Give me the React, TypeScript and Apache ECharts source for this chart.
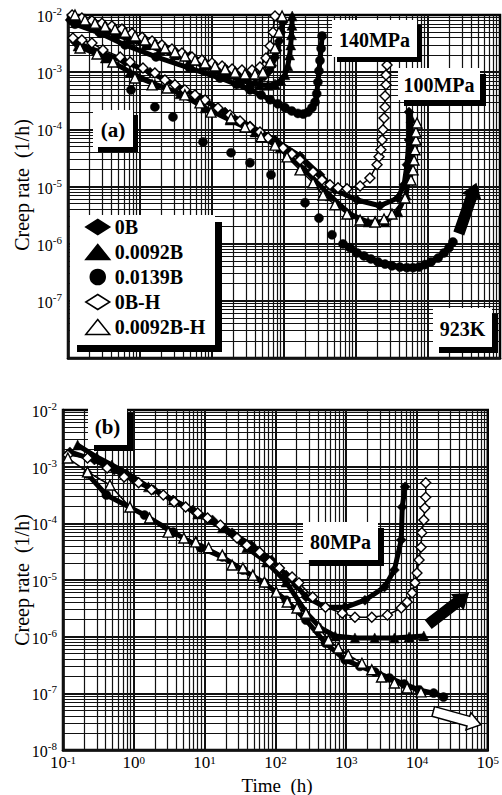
import { useEffect, useRef } from "react";
import * as echarts from "echarts";

type Pt = [number, number];

// ---------- (a) 923 K, 140 MPa : [time (h), creep rate (1/h)] ----------
const a140_0B: Pt[] = [
  [0.107, 8.2e-3], [0.2, 6.8e-3], [0.28, 5.9e-3], [0.45, 5.0e-3], [0.73, 4.3e-3], [1.2, 3.5e-3],
  [1.9, 2.9e-3], [3.0, 2.35e-3], [4.9, 1.9e-3], [7.5, 1.55e-3], [11, 1.3e-3], [16, 1.1e-3],
  [24.5, 9.3e-4], [32, 8.5e-4], [40, 7.9e-4], [48, 7.9e-4], [54, 8.6e-4], [62, 1.05e-3],
  [68, 1.3e-3], [75, 1.8e-3], [80, 2.4e-3], [86, 3.5e-3], [91, 5.0e-3], [97, 7.5e-3],
];
const a140_0092B: Pt[] = [
  [0.114, 8.9e-3], [0.19, 7.0e-3], [0.28, 5.5e-3], [0.45, 4.6e-3], [0.73, 3.7e-3], [1.2, 3.0e-3],
  [1.9, 2.45e-3], [3.0, 2.0e-3], [4.9, 1.6e-3], [7.5, 1.3e-3], [11, 1.1e-3], [16, 9.0e-4],
  [24.5, 7.3e-4], [34, 6.5e-4], [46, 6.0e-4], [60, 5.9e-4], [75, 6.2e-4], [90, 7.2e-4],
  [103, 9.0e-4], [113, 1.3e-3], [120, 2.0e-3], [124, 3.0e-3], [127, 4.5e-3], [129, 6.6e-3], [130, 9.6e-3],
];
const a140_0139B: Pt[] = [
  [0.125, 6.9e-3], [0.28, 4.8e-3], [0.62, 3.0e-3], [1.67, 1.85e-3], [4.9, 1.18e-3], [12.9, 7.9e-4],
  [22, 6.1e-4], [33.7, 4.9e-4], [48, 4.0e-4], [64, 3.3e-4], [82, 2.8e-4], [103, 2.4e-4],
  [128, 2.1e-4], [156, 1.9e-4], [185, 1.85e-4], [215, 2.0e-4], [245, 2.4e-4], [270, 3.0e-4],
  [285, 4.2e-4], [296, 6.7e-4], [306, 1.05e-3], [316, 1.6e-3], [328, 2.6e-3], [338, 4.3e-3],
];
const a140_0BH: Pt[] = [
  [0.114, 1.0e-2], [0.156, 8.9e-3], [0.215, 7.9e-3], [0.296, 7.2e-3], [0.408, 6.4e-3], [0.562, 5.7e-3],
  [0.774, 4.8e-3], [1.07, 4.1e-3], [1.47, 3.5e-3], [2.02, 3.0e-3], [2.78, 2.55e-3], [3.83, 2.17e-3],
  [5.27, 1.85e-3], [7.26, 1.63e-3], [10, 1.45e-3], [13.8, 1.28e-3], [19, 1.14e-3], [26.1, 1.09e-3],
  [36, 1.09e-3], [46.4, 1.23e-3], [56.2, 1.77e-3], [64, 2.87e-3], [70.3, 5.0e-3], [75, 9.6e-3],
];
const a140_0092BH: Pt[] = [
  [0.125, 1.0e-2], [0.172, 8.2e-3], [0.237, 7.2e-3], [0.327, 6.4e-3], [0.45, 5.7e-3], [0.62, 5.0e-3],
  [0.853, 4.3e-3], [1.17, 3.66e-3], [1.61, 3.1e-3], [2.22, 2.65e-3], [3.06, 2.25e-3], [4.22, 1.92e-3],
  [5.81, 1.63e-3], [8.0, 1.45e-3], [11.0, 1.28e-3], [15.2, 1.14e-3], [20.9, 1.0e-3], [28.7, 9.3e-4],
  [39.5, 9.3e-4], [51, 1.0e-3], [64, 1.51e-3], [75, 2.65e-3], [85, 5.0e-3], [94, 9.6e-3],
];

// ---------- (a) 923 K, 100 MPa ----------
const a100_0B: Pt[] = [
  [0.125, 3.37e-3], [0.278, 2.25e-3], [0.62, 1.51e-3], [1.38, 1.0e-3], [3.06, 6.0e-4], [6.8, 3.54e-4],
  [15.2, 2.0e-4], [33.7, 1.15e-4], [75, 6.5e-5], [167, 3.4e-5], [316, 1.6e-5], [510, 8.7e-6],
  [1030, 5.8e-6], [2150, 4.6e-6], [3830, 6.3e-6], [4650, 1.07e-5], [5100, 2.4e-5], [5450, 6.5e-5], [5450, 2.0e-4],
];
const a100_0092B: Pt[] = [
  [0.138, 2.87e-3], [0.33, 1.77e-3], [0.73, 1.0e-3], [1.61, 6.2e-4], [3.6, 4.2e-4], [8.0, 2.37e-4],
  [17.8, 1.46e-4], [39.5, 9.0e-5], [88, 4.7e-5], [196, 1.95e-5], [435, 6.9e-6], [826, 3.3e-6],
  [1470, 2.4e-6], [2530, 2.4e-6], [3830, 3.6e-6], [4950, 7.1e-6], [5620, 1.95e-5], [5800, 5.3e-5], [5800, 1.58e-4],
];
const a100_0139B_early: Pt[] = [
  [0.75, 4.9e-4], [1.61, 2.47e-4], [2.87, 1.65e-4], [7.5, 6.0e-5], [18.4, 3.9e-5], [33.7, 2.6e-5],
  [66, 1.6e-5], [196, 5.2e-6], [306, 2.8e-6], [464, 1.43e-6],
];
const a100_0139B_late: Pt[] = [
  [660, 9.9e-7], [826, 8.5e-7], [1030, 6.9e-7], [1290, 6.1e-7], [1610, 5.4e-7], [2020, 4.8e-7],
  [2530, 4.4e-7], [3160, 4.1e-7], [4080, 3.9e-7], [5100, 3.8e-7], [6200, 3.8e-7], [7500, 3.9e-7],
  [9080, 4.3e-7], [11000, 4.8e-7], [13800, 5.6e-7], [16700, 6.9e-7], [19600, 8.5e-7], [22200, 1.07e-6],
];
const a100_0BH: Pt[] = [
  [0.117, 3.96e-3], [0.156, 3.66e-3], [0.215, 3.24e-3], [0.306, 2.45e-3], [0.53, 1.85e-3], [0.73, 1.51e-3],
  [1.1, 1.18e-3], [1.61, 9.7e-4], [2.22, 7.3e-4], [3.06, 6.0e-4], [4.2, 4.9e-4], [5.8, 4.0e-4],
  [8.0, 3.27e-4], [12.1, 2.37e-4], [17.8, 1.79e-4], [24.5, 1.4e-4], [33.7, 1.1e-4], [46.4, 9.0e-5],
  [60, 7.1e-5], [97, 4.7e-5], [129, 3.7e-5], [167, 2.9e-5], [253, 1.8e-5], [337, 1.3e-5],
  [435, 1.07e-5], [562, 9.5e-6], [750, 9.1e-6], [1140, 1.02e-5], [1560, 1.41e-5], [1960, 2.4e-5],
  [2090, 3.3e-5], [2220, 4.4e-5], [2300, 6.5e-5], [2370, 9.8e-5], [2450, 1.58e-4], [2530, 2.47e-4],
  [2530, 3.84e-4], [2610, 6.0e-4], [2610, 8.9e-4], [2700, 1.34e-3],
];
const a100_0092BH: Pt[] = [
  [0.147, 2.65e-3], [0.253, 2.08e-3], [0.42, 1.51e-3], [0.85, 7.9e-4], [1.47, 6.0e-4], [2.37, 5.3e-4],
  [4.2, 4.0e-4], [6.8, 2.9e-4], [9.7, 2.0e-4], [18.4, 1.58e-4], [28.7, 1.1e-4], [48, 7.4e-5],
  [75, 5.3e-5], [110, 3.3e-5], [167, 1.95e-5], [253, 1.16e-5], [348, 7.1e-6], [510, 4.8e-6],
  [750, 3.3e-6], [1140, 2.6e-6], [1840, 2.4e-6], [2450, 2.7e-6], [3160, 3.3e-6], [4800, 6.3e-6],
  [5800, 1.3e-5], [6200, 1.95e-5], [6400, 2.9e-5], [6600, 4.4e-5], [6800, 6.5e-5], [6800, 9.0e-5], [7030, 1.29e-4],
];

// ---------- (b) 80 MPa ----------
const b80_0B: Pt[] = [
  [0.125, 1.82e-3], [0.278, 1.31e-3], [0.53, 8.7e-4], [1.0, 5.8e-4], [1.9, 3.9e-4], [3.6, 2.58e-4],
  [6.8, 1.72e-4], [12.9, 1.15e-4], [24.5, 6.8e-5], [46, 4.1e-5], [88, 2.25e-5], [142, 1.22e-5],
  [196, 8.2e-6], [270, 5.0e-6], [510, 3.3e-6], [968, 3.3e-6], [1840, 4.4e-6], [3480, 7.5e-6],
  [4800, 1.5e-5], [6000, 5.1e-5], [6200, 1.94e-4], [6800, 4.4e-4],
];
const b80_0092B: Pt[] = [
  [0.161, 2.41e-3], [0.3, 1.48e-3], [0.49, 1.07e-3], [0.8, 7.7e-4], [1.61, 4.4e-4], [3.6, 2.58e-4],
  [8.0, 1.46e-4], [17.8, 8.3e-5], [39.5, 3.7e-5], [75, 2.08e-5], [142, 9.2e-6], [270, 2.7e-6],
  [435, 1.42e-6], [700, 1.03e-6], [1330, 9.5e-7], [2530, 9.5e-7], [4800, 9.5e-7], [7740, 9.9e-7], [12500, 1.03e-6],
];
const b80_0139B: Pt[] = [
  [0.222, 7.4e-4], [0.41, 3.16e-4], [1.42, 1.4e-4], [3.6, 7.0e-5], [8.8, 3.7e-5], [17.8, 2.55e-5],
  [34.8, 1.5e-5], [70, 8.9e-6], [142, 4.4e-6], [270, 1.97e-6], [510, 7.7e-7], [968, 3.9e-7],
  [1560, 3.0e-7], [2530, 2.4e-7], [4080, 1.87e-7], [6600, 1.46e-7], [10700, 1.15e-7], [17200, 1.01e-7], [23700, 8.6e-8],
];
const b80_0BH: Pt[] = [
  [0.117, 1.61e-3], [0.222, 1.42e-3], [0.42, 9.5e-4], [0.73, 6.6e-4], [1.17, 5.2e-4], [1.78, 3.9e-4],
  [2.61, 3.16e-4], [3.71, 2.38e-4], [5.4, 1.94e-4], [8.0, 1.52e-4], [11.0, 1.24e-4], [16.7, 9.3e-5],
  [28.7, 5.5e-5], [39.5, 4.1e-5], [60, 3.1e-5], [83, 2.08e-5], [114, 1.63e-5], [172, 1.13e-5],
  [215, 8.9e-6], [337, 5.0e-6], [510, 3.3e-6], [880, 2.6e-6], [1330, 2.2e-6], [2300, 2.2e-6],
  [3830, 2.4e-6], [6000, 3.2e-6], [7260, 4.1e-6], [8530, 5.9e-6], [9380, 8.9e-6], [10000, 1.33e-5],
  [10700, 2.25e-5], [11400, 3.8e-5], [11700, 6.8e-5], [12500, 1.15e-4], [12900, 1.87e-4],
  [13300, 2.9e-4], [13300, 5.2e-4],
];
const b80_0092BH: Pt[] = [
  [0.117, 1.42e-3], [0.222, 8.1e-4], [0.46, 4.75e-4], [0.88, 1.94e-4], [1.67, 1.24e-4], [3.06, 7.0e-5],
  [5.1, 5.5e-5], [7.5, 4.7e-5], [11.4, 3.7e-5], [17.8, 2.76e-5], [24.5, 1.84e-5], [34.8, 1.63e-5],
  [48, 1.22e-5], [70, 9.2e-6], [103, 6.1e-6], [147, 4.1e-6], [202, 3.2e-6], [270, 2.6e-6],
  [408, 1.48e-6], [562, 8.7e-7], [774, 6.3e-7], [1070, 4.75e-7], [1670, 3.4e-7], [2300, 2.6e-7],
  [3160, 1.94e-7], [4800, 1.52e-7], [7260, 1.24e-7], [11400, 1.06e-7],
];

// Tests still running: [t from, rate from, t to, rate to]
const arrowA_0139B: number[][] = [[27000, 1.55e-6, 46400, 1.11e-5]];
const arrowB_0092B: number[][] = [[14700, 1.67e-6, 52700, 5.7e-6]];
const arrowB_0092BH: number[][] = [[17000, 4.8e-8, 80000, 2.8e-8]];

const MATERIALS = ["0B", "0.0092B", "0.0139B", "0B-H", "0.0092B-H"];

const T_MIN = 0.1;
const T_MAX = 1e5;
const R_MIN = 1e-8;
const R_MAX = 1e-2;

const SERIF = "'Liberation Serif', 'Times New Roman', serif";

const MARK: Record<string, { symbol: string; fill: string; size: number }> = {
  "0B": { symbol: "diamond", fill: "#000", size: 10 },
  "0.0092B": { symbol: "triangle", fill: "#000", size: 10 },
  "0.0139B": { symbol: "circle", fill: "#000", size: 9 },
  "0B-H": { symbol: "diamond", fill: "#fff", size: 10 },
  "0.0092B-H": { symbol: "triangle", fill: "#fff", size: 10 },
};

function curve(name: string, data: Pt[], g: number, lineWidth?: number) {
  const m = MARK[name];
  const hollow = m.fill === "#fff";
  return {
    type: "line",
    name,
    xAxisIndex: g,
    yAxisIndex: g,
    data,
    symbol: m.symbol,
    symbolSize: m.size,
    showSymbol: true,
    silent: true,
    z: hollow ? 4 : 3,
    itemStyle: { color: m.fill, borderColor: "#000", borderWidth: hollow ? 1.4 : 0.5 },
    lineStyle: { color: "#000", width: lineWidth ?? (hollow ? 1.5 : 5) },
  };
}

function arrow(data: number[][], g: number, fill: string) {
  return {
    type: "custom",
    xAxisIndex: g,
    yAxisIndex: g,
    silent: true,
    z: 6,
    data,
    renderItem: (_p: any, api: any) => {
      const p0 = api.coord([api.value(0), api.value(1)]);
      const p1 = api.coord([api.value(2), api.value(3)]);
      const dx = p1[0] - p0[0];
      const dy = p1[1] - p0[1];
      const L = Math.hypot(dx, dy) || 1;
      const ux = dx / L, uy = dy / L;
      const nx = -uy, ny = ux;
      const w = 5, hw = 9, hl = 13;
      const bx = p1[0] - ux * hl, by = p1[1] - uy * hl;
      const points = [
        [p0[0] + nx * w, p0[1] + ny * w],
        [bx + nx * w, by + ny * w],
        [bx + nx * hw, by + ny * hw],
        [p1[0], p1[1]],
        [bx - nx * hw, by - ny * hw],
        [bx - nx * w, by - ny * w],
        [p0[0] - nx * w, p0[1] - ny * w],
      ];
      return {
        type: "polygon",
        shape: { points },
        style: { fill, stroke: "#000", lineWidth: 1.5 },
      };
    },
  };
}

// Log-paper rulings: every 1..9 multiple of each decade, drawn as two-point mark lines
function paper(g: number) {
  const lines: any[] = [];
  const xExp0 = Math.round(Math.log10(T_MIN));
  const xExp1 = Math.round(Math.log10(T_MAX));
  const yExp0 = Math.round(Math.log10(R_MIN));
  const yExp1 = Math.round(Math.log10(R_MAX));
  for (let n = xExp0; n < xExp1; n++) {
    for (let k = 1; k <= 9; k++) {
      const v = k * Math.pow(10, n);
      const lineStyle = { width: k === 1 ? 2 : 1.2 };
      lines.push([{ coord: [v, R_MIN], lineStyle }, { coord: [v, R_MAX] }]);
    }
  }
  for (let n = yExp0; n < yExp1; n++) {
    for (let k = 1; k <= 9; k++) {
      const v = k * Math.pow(10, n);
      const lineStyle = { width: k === 1 ? 2 : 1.2 };
      lines.push([{ coord: [T_MIN, v], lineStyle }, { coord: [T_MAX, v] }]);
    }
  }
  return {
    type: "line",
    name: "paper",
    xAxisIndex: g,
    yAxisIndex: g,
    data: [],
    silent: true,
    z: 1,
    markLine: {
      z: 1,
      silent: true,
      symbol: ["none", "none"],
      label: { show: false },
      animation: false,
      lineStyle: { color: "#111", type: "solid", width: 1.2 },
      emphasis: { disabled: true },
      data: lines,
    },
  };
}

const expLabel = (hideExp?: number) => (v: number) => {
  const e = Math.round(Math.log10(v));
  if (hideExp !== undefined && e === hideExp) return "";
  return `{b|10}{s|${e}}`;
};

const rich = (size: number, raise: number) => ({
  b: { fontFamily: SERIF, fontSize: size, color: "#000", verticalAlign: "bottom" },
  s: { fontFamily: SERIF, fontSize: 11, color: "#000", verticalAlign: "bottom", padding: [0, 0, raise, 0] },
});

// Annotation boxes with offset black shadow
const BOXES = [
  { x: 93, y: 110, w: 40, h: 37, off: 5, text: "(a)", size: 21 },
  { x: 332, y: 20, w: 85, h: 37, off: 5, text: "140MPa", size: 20 },
  { x: 398, y: 68, w: 82, h: 32, off: 6, text: "100MPa", size: 20 },
  { x: 433, y: 308, w: 59, h: 39, off: 6, text: "923K", size: 20 },
  { x: 88, y: 407, w: 39, h: 38, off: 6, text: "(b)", size: 21 },
  { x: 303, y: 522, w: 75, h: 38, off: 6, text: "80MPa", size: 20 },
];
const LEGEND_BOX = { x: 70, y: 215, w: 145, h: 130, off: 7 };

export default function App() {
  const ref = useRef<HTMLDivElement>(null);

  useEffect(() => {
    if (!ref.current) return;
    document.body.style.margin = "0";
    const chart = echarts.init(ref.current, undefined, { renderer: "svg" });

    const graphic: any[] = [];
    const addBox = (b: { x: number; y: number; w: number; h: number; off: number }) => {
      graphic.push({
        type: "rect", z: 10, silent: true,
        shape: { x: b.x + b.off, y: b.y + b.off, width: b.w, height: b.h },
        style: { fill: "#000" },
      });
      graphic.push({
        type: "rect", z: 11, silent: true,
        shape: { x: b.x, y: b.y, width: b.w, height: b.h },
        style: { fill: "#fff" },
      });
    };
    BOXES.forEach((b) => {
      addBox(b);
      graphic.push({
        type: "text", z: 12, silent: true, x: b.x + b.w / 2, y: b.y + b.h / 2 + 1,
        style: {
          text: b.text, fontFamily: SERIF, fontWeight: "bold", fontSize: b.size, fill: "#000",
          align: "center", verticalAlign: "middle",
        },
      });
    });
    addBox(LEGEND_BOX);
    graphic.push(
      {
        type: "text", z: 12, silent: true, x: 22, y: 185, rotation: Math.PI / 2,
        style: { text: "Creep rate  (1/h)", fontFamily: SERIF, fontSize: 20, fill: "#000", align: "center", verticalAlign: "middle" },
      },
      {
        type: "text", z: 12, silent: true, x: 22, y: 580, rotation: Math.PI / 2,
        style: { text: "Creep rate  (1/h)", fontFamily: SERIF, fontSize: 20, fill: "#000", align: "center", verticalAlign: "middle" },
      },
      {
        type: "text", z: 12, silent: true, x: 277, y: 785,
        style: { text: "Time  (h)", fontFamily: SERIF, fontSize: 19, fill: "#000", align: "center", verticalAlign: "middle" },
      }
    );

    const axisLine = { show: true, lineStyle: { color: "#000", width: 2.5 } };

    chart.setOption({
      animation: false,
      backgroundColor: "#fff",
      grid: [
        { left: 68, top: 15, width: 432, height: 343, show: true, borderColor: "#000", borderWidth: 2.5 },
        { left: 63, top: 410, width: 432, height: 340, show: true, borderColor: "#000", borderWidth: 2.5 },
      ],
      xAxis: [
        {
          type: "log", logBase: 10, gridIndex: 0, min: T_MIN, max: T_MAX, interval: 1,
          axisLine, axisTick: { show: false }, splitLine: { show: false }, axisLabel: { show: false },
        },
        {
          type: "log", logBase: 10, gridIndex: 1, min: T_MIN, max: T_MAX, interval: 1,
          axisLine, axisTick: { show: false }, splitLine: { show: false },
          axisLabel: { show: true, margin: 4, formatter: expLabel(), rich: rich(17, 6) },
        },
      ],
      yAxis: [
        {
          type: "log", logBase: 10, gridIndex: 0, min: R_MIN, max: R_MAX, interval: 1,
          axisLine, axisTick: { show: false }, splitLine: { show: false },
          axisLabel: { show: true, margin: 6, formatter: expLabel(-8), rich: rich(16, 8) },
        },
        {
          type: "log", logBase: 10, gridIndex: 1, min: R_MIN, max: R_MAX, interval: 1,
          axisLine, axisTick: { show: false }, splitLine: { show: false },
          axisLabel: { show: true, margin: 6, formatter: expLabel(), rich: rich(16, 8) },
        },
      ],
      legend: {
        show: true,
        orient: "vertical",
        left: 85,
        top: 217,
        padding: 0,
        itemGap: 5,
        itemWidth: 24,
        itemHeight: 15,
        selectedMode: false,
        z: 20,
        textStyle: { fontFamily: SERIF, fontWeight: "bold", fontSize: 20, color: "#000", lineHeight: 20 },
        data: MATERIALS.map((n) => ({
          name: n,
          icon: MARK[n].symbol,
          itemStyle: { color: MARK[n].fill, borderColor: "#000", borderWidth: 1.5 },
        })),
      },
      graphic,
      series: [
        paper(0),
        paper(1),
        // (a) 140 MPa
        curve("0B", a140_0B, 0),
        curve("0.0092B", a140_0092B, 0),
        curve("0.0139B", a140_0139B, 0),
        curve("0B-H", a140_0BH, 0),
        curve("0.0092B-H", a140_0092BH, 0),
        // (a) 100 MPa
        curve("0B", a100_0B, 0),
        curve("0.0092B", a100_0092B, 0),
        curve("0.0139B", a100_0139B_early, 0, 0),
        curve("0.0139B", a100_0139B_late, 0, 6),
        curve("0B-H", a100_0BH, 0),
        curve("0.0092B-H", a100_0092BH, 0),
        arrow(arrowA_0139B, 0, "#000"),
        // (b) 80 MPa
        curve("0B", b80_0B, 1),
        curve("0.0092B", b80_0092B, 1),
        curve("0.0139B", b80_0139B, 1),
        curve("0B-H", b80_0BH, 1),
        curve("0.0092B-H", b80_0092BH, 1),
        arrow(arrowB_0092B, 1, "#000"),
        arrow(arrowB_0092BH, 1, "#fff"),
      ],
    });

    return () => chart.dispose();
  }, []);

  return <div ref={ref} style={{ width: 502, height: 795 }} />;
}
